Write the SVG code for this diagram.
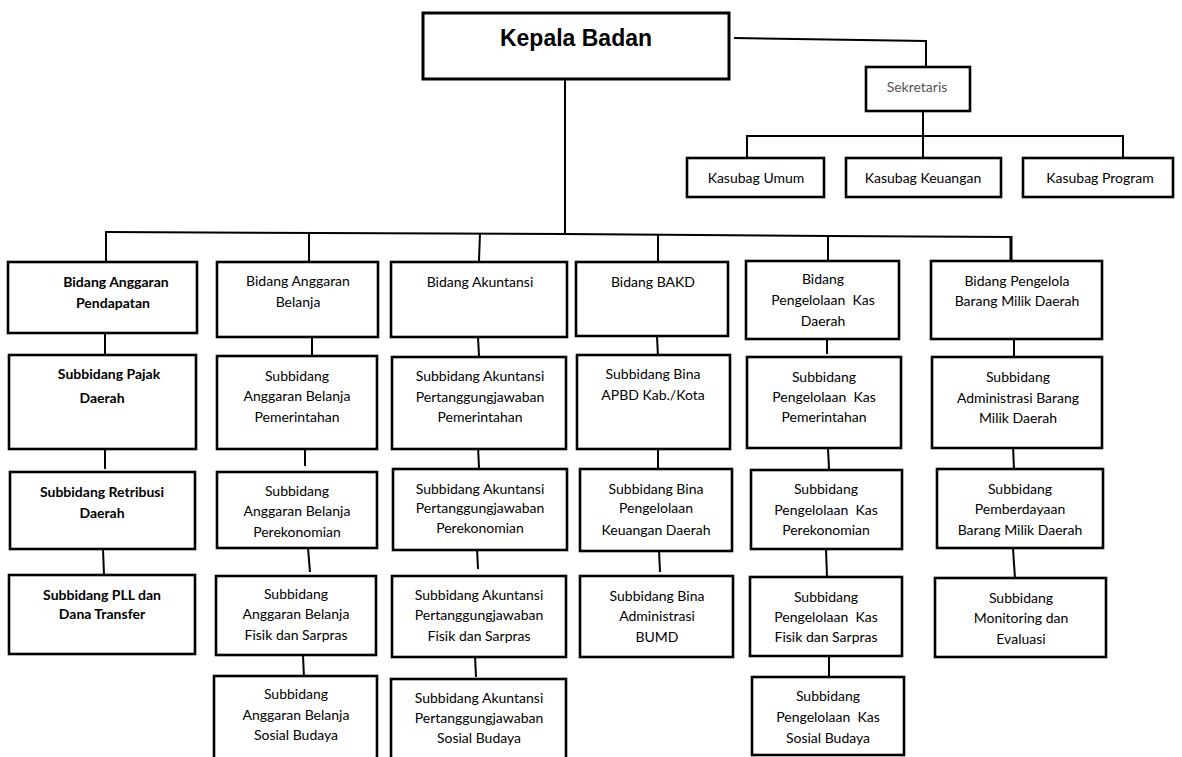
<svg xmlns="http://www.w3.org/2000/svg" width="1182" height="757" viewBox="0 0 1182 757">
  <style>
    .box { fill: #fff; stroke: #000; stroke-width: 2.6; }
    .top { stroke-width: 3; }
    .ln { fill: none; stroke: #000; stroke-width: 2; }
    .t { font-family: Lato, "Open Sans", sans-serif; font-size: 14px; fill: #000; text-anchor: middle; white-space: pre; }
    .b { font-weight: bold; }
    .g { fill: #555; }
    .head { font-family: "Liberation Sans", Arial, sans-serif; font-size: 23px; font-weight: bold; fill: #000; text-anchor: middle; }
  </style>
  <rect width="1182" height="757" fill="#fff"/>

  <!-- connectors -->
  <g id="connectors">
    <line class="ln" x1="565" y1="79" x2="565" y2="234"/>
    <polyline class="ln" points="734,38 926,41 926,67"/>
    <line class="ln" x1="923" y1="111" x2="923" y2="136"/>
    <line class="ln" x1="746" y1="136" x2="1124" y2="136"/>
    <line class="ln" x1="747" y1="135" x2="747" y2="158"/>
    <line class="ln" x1="923" y1="136" x2="923" y2="158"/>
    <line class="ln" x1="1123" y1="135" x2="1123" y2="158"/>

    <polyline class="ln" points="105,232 565,234 828,236 1012,237"/>
    <line class="ln" x1="106" y1="231" x2="106" y2="261"/>
    <line class="ln" x1="309" y1="232" x2="309" y2="261"/>
    <line class="ln" x1="480" y1="233" x2="479" y2="261"/>
    <line class="ln" x1="658" y1="235" x2="658" y2="261"/>
    <line class="ln" x1="828" y1="236" x2="828" y2="260"/>
    <line class="ln" x1="1011" y1="236" x2="1011" y2="260" style="stroke-width:3"/>

    <line class="ln" x1="105" y1="333" x2="105" y2="355"/>
    <line class="ln" x1="105" y1="449" x2="105" y2="469"/>
    <line class="ln" x1="103" y1="549" x2="104" y2="575"/>

    <line class="ln" x1="312" y1="337" x2="312" y2="356"/>
    <line class="ln" x1="305" y1="446" x2="305" y2="466"/>
    <line class="ln" x1="308" y1="548" x2="310" y2="572"/>
    <line class="ln" x1="303" y1="655" x2="304" y2="678"/>

    <line class="ln" x1="478" y1="337" x2="479" y2="356"/>
    <line class="ln" x1="478" y1="446" x2="479" y2="468"/>
    <line class="ln" x1="477" y1="548" x2="478" y2="569"/>
    <line class="ln" x1="475" y1="655" x2="476" y2="677"/>

    <line class="ln" x1="657" y1="336" x2="658" y2="357"/>
    <line class="ln" x1="658" y1="449" x2="658" y2="468"/>
    <line class="ln" x1="659" y1="550" x2="660" y2="572"/>

    <line class="ln" x1="827" y1="339" x2="827" y2="354"/>
    <line class="ln" x1="828" y1="448" x2="829" y2="469"/>
    <line class="ln" x1="826" y1="549" x2="827" y2="577"/>
    <line class="ln" x1="829" y1="655" x2="829" y2="676"/>

    <line class="ln" x1="1014" y1="339" x2="1014" y2="357"/>
    <line class="ln" x1="1013" y1="445" x2="1014" y2="470"/>
    <line class="ln" x1="1013" y1="548" x2="1015" y2="579"/>
  </g>

  <!-- top level -->
  <g id="kepala-badan">
    <rect class="box top" x="423" y="13" width="306" height="66"/>
    <text class="head" x="576" y="46">Kepala Badan</text>
  </g>
  <g id="sekretaris">
    <rect class="box" x="866" y="67" width="104" height="44"/>
    <text class="t g" x="917" y="92">Sekretaris</text>
  </g>
  <g id="kasubag-umum">
    <rect class="box" x="687" y="158" width="137" height="39"/>
    <text class="t" x="756" y="183">Kasubag Umum</text>
  </g>
  <g id="kasubag-keuangan">
    <rect class="box" x="846" y="158" width="155" height="39"/>
    <text class="t" x="923" y="183">Kasubag Keuangan</text>
  </g>
  <g id="kasubag-program">
    <rect class="box" x="1023" y="158" width="150" height="39"/>
    <text class="t" x="1100" y="183">Kasubag Program</text>
  </g>

  <!-- column 1 -->
  <g id="bidang-anggaran-pendapatan">
    <rect class="box" x="8" y="262" width="189" height="71"/>
    <text class="t b" x="116" y="287">Bidang Anggaran</text>
    <text class="t b" x="113" y="308">Pendapatan</text>
  </g>
  <g id="subbidang-pajak-daerah">
    <rect class="box" x="9" y="355" width="187" height="94"/>
    <text class="t b" x="109" y="379">Subbidang Pajak</text>
    <text class="t b" x="102" y="403">Daerah</text>
  </g>
  <g id="subbidang-retribusi-daerah">
    <rect class="box" x="10" y="472" width="185" height="77"/>
    <text class="t b" x="102" y="497">Subbidang Retribusi</text>
    <text class="t b" x="102" y="518">Daerah</text>
  </g>
  <g id="subbidang-pll-dana-transfer">
    <rect class="box" x="9" y="575" width="186" height="79"/>
    <text class="t b" x="102" y="600">Subbidang PLL dan</text>
    <text class="t b" x="102" y="619">Dana Transfer</text>
  </g>

  <!-- column 2 -->
  <g id="bidang-anggaran-belanja">
    <rect class="box" x="217" y="262" width="161" height="75"/>
    <text class="t" x="298" y="286">Bidang Anggaran</text>
    <text class="t" x="298" y="307">Belanja</text>
  </g>
  <g id="subbidang-ab-pemerintahan">
    <rect class="box" x="217" y="356" width="160" height="93"/>
    <text class="t" x="297" y="381">Subbidang</text>
    <text class="t" x="297" y="401">Anggaran Belanja</text>
    <text class="t" x="297" y="422">Pemerintahan</text>
  </g>
  <g id="subbidang-ab-perekonomian">
    <rect class="box" x="217" y="472" width="160" height="76"/>
    <text class="t" x="297" y="496">Subbidang</text>
    <text class="t" x="297" y="516">Anggaran Belanja</text>
    <text class="t" x="297" y="537">Perekonomian</text>
  </g>
  <g id="subbidang-ab-fisik-sarpras">
    <rect class="box" x="216" y="576" width="160" height="79"/>
    <text class="t" x="296" y="599">Subbidang</text>
    <text class="t" x="296" y="619">Anggaran Belanja</text>
    <text class="t" x="296" y="640">Fisik dan Sarpras</text>
  </g>
  <g id="subbidang-ab-sosial-budaya">
    <rect class="box" x="214" y="676" width="163" height="94"/>
    <text class="t" x="296" y="699">Subbidang</text>
    <text class="t" x="296" y="720">Anggaran Belanja</text>
    <text class="t" x="296" y="740">Sosial Budaya</text>
  </g>

  <!-- column 3 -->
  <g id="bidang-akuntansi">
    <rect class="box" x="391" y="262" width="176" height="75"/>
    <text class="t" x="480" y="287">Bidang Akuntansi</text>
  </g>
  <g id="subbidang-ap-pemerintahan">
    <rect class="box" x="392" y="357" width="174" height="92"/>
    <text class="t" x="480" y="381">Subbidang Akuntansi</text>
    <text class="t" x="480" y="402">Pertanggungjawaban</text>
    <text class="t" x="480" y="422">Pemerintahan</text>
  </g>
  <g id="subbidang-ap-perekonomian">
    <rect class="box" x="393" y="469" width="174" height="81"/>
    <text class="t" x="480" y="494">Subbidang Akuntansi</text>
    <text class="t" x="480" y="513">Pertanggungjawaban</text>
    <text class="t" x="480" y="533">Perekonomian</text>
  </g>
  <g id="subbidang-ap-fisik-sarpras">
    <rect class="box" x="392" y="576" width="174" height="81"/>
    <text class="t" x="479" y="600">Subbidang Akuntansi</text>
    <text class="t" x="479" y="620">Pertanggungjawaban</text>
    <text class="t" x="479" y="641">Fisik dan Sarpras</text>
  </g>
  <g id="subbidang-ap-sosial-budaya">
    <rect class="box" x="391" y="679" width="175" height="91"/>
    <text class="t" x="479" y="703">Subbidang Akuntansi</text>
    <text class="t" x="479" y="723">Pertanggungjawaban</text>
    <text class="t" x="479" y="743">Sosial Budaya</text>
  </g>

  <!-- column 4 -->
  <g id="bidang-bakd">
    <rect class="box" x="576" y="262" width="152" height="74"/>
    <text class="t" x="653" y="287">Bidang BAKD</text>
  </g>
  <g id="subbidang-bina-apbd">
    <rect class="box" x="577" y="355" width="153" height="94"/>
    <text class="t" x="653" y="379">Subbidang Bina</text>
    <text class="t" x="653" y="400">APBD Kab./Kota</text>
  </g>
  <g id="subbidang-bina-pkd">
    <rect class="box" x="580" y="469" width="152" height="82"/>
    <text class="t" x="656" y="494">Subbidang Bina</text>
    <text class="t" x="656" y="513">Pengelolaan</text>
    <text class="t" x="656" y="535">Keuangan Daerah</text>
  </g>
  <g id="subbidang-bina-bumd">
    <rect class="box" x="580" y="576" width="153" height="81"/>
    <text class="t" x="657" y="601">Subbidang Bina</text>
    <text class="t" x="657" y="621">Administrasi</text>
    <text class="t" x="657" y="642">BUMD</text>
  </g>

  <!-- column 5 -->
  <g id="bidang-pengelolaan-kas">
    <rect class="box" x="746" y="261" width="153" height="78"/>
    <text class="t" x="823" y="284">Bidang</text>
    <text class="t" x="823" y="305" xml:space="preserve">Pengelolaan  Kas</text>
    <text class="t" x="823" y="326">Daerah</text>
  </g>
  <g id="subbidang-pk-pemerintahan">
    <rect class="box" x="747" y="357" width="154" height="91"/>
    <text class="t" x="824" y="382">Subbidang</text>
    <text class="t" x="824" y="402" xml:space="preserve">Pengelolaan  Kas</text>
    <text class="t" x="824" y="422">Pemerintahan</text>
  </g>
  <g id="subbidang-pk-perekonomian">
    <rect class="box" x="751" y="470" width="151" height="79"/>
    <text class="t" x="826" y="494">Subbidang</text>
    <text class="t" x="826" y="515" xml:space="preserve">Pengelolaan  Kas</text>
    <text class="t" x="826" y="535">Perekonomian</text>
  </g>
  <g id="subbidang-pk-fisik-sarpras">
    <rect class="box" x="750" y="577" width="152" height="79"/>
    <text class="t" x="826" y="602">Subbidang</text>
    <text class="t" x="826" y="622" xml:space="preserve">Pengelolaan  Kas</text>
    <text class="t" x="826" y="642">Fisik dan Sarpras</text>
  </g>
  <g id="subbidang-pk-sosial-budaya">
    <rect class="box" x="752" y="677" width="152" height="78"/>
    <text class="t" x="828" y="701">Subbidang</text>
    <text class="t" x="828" y="722" xml:space="preserve">Pengelolaan  Kas</text>
    <text class="t" x="828" y="743">Sosial Budaya</text>
  </g>

  <!-- column 6 -->
  <g id="bidang-pengelola-bmd">
    <rect class="box" x="931" y="261" width="171" height="78"/>
    <text class="t" x="1017" y="286">Bidang Pengelola</text>
    <text class="t" x="1017" y="306">Barang Milik Daerah</text>
  </g>
  <g id="subbidang-administrasi-bmd">
    <rect class="box" x="932" y="357" width="170" height="91"/>
    <text class="t" x="1018" y="382">Subbidang</text>
    <text class="t" x="1018" y="403">Administrasi Barang</text>
    <text class="t" x="1018" y="423">Milik Daerah</text>
  </g>
  <g id="subbidang-pemberdayaan-bmd">
    <rect class="box" x="937" y="469" width="166" height="79"/>
    <text class="t" x="1020" y="494">Subbidang</text>
    <text class="t" x="1020" y="514">Pemberdayaan</text>
    <text class="t" x="1020" y="535">Barang Milik Daerah</text>
  </g>
  <g id="subbidang-monev">
    <rect class="box" x="935" y="578" width="171" height="79"/>
    <text class="t" x="1021" y="603">Subbidang</text>
    <text class="t" x="1021" y="623">Monitoring dan</text>
    <text class="t" x="1021" y="644">Evaluasi</text>
  </g>
</svg>
